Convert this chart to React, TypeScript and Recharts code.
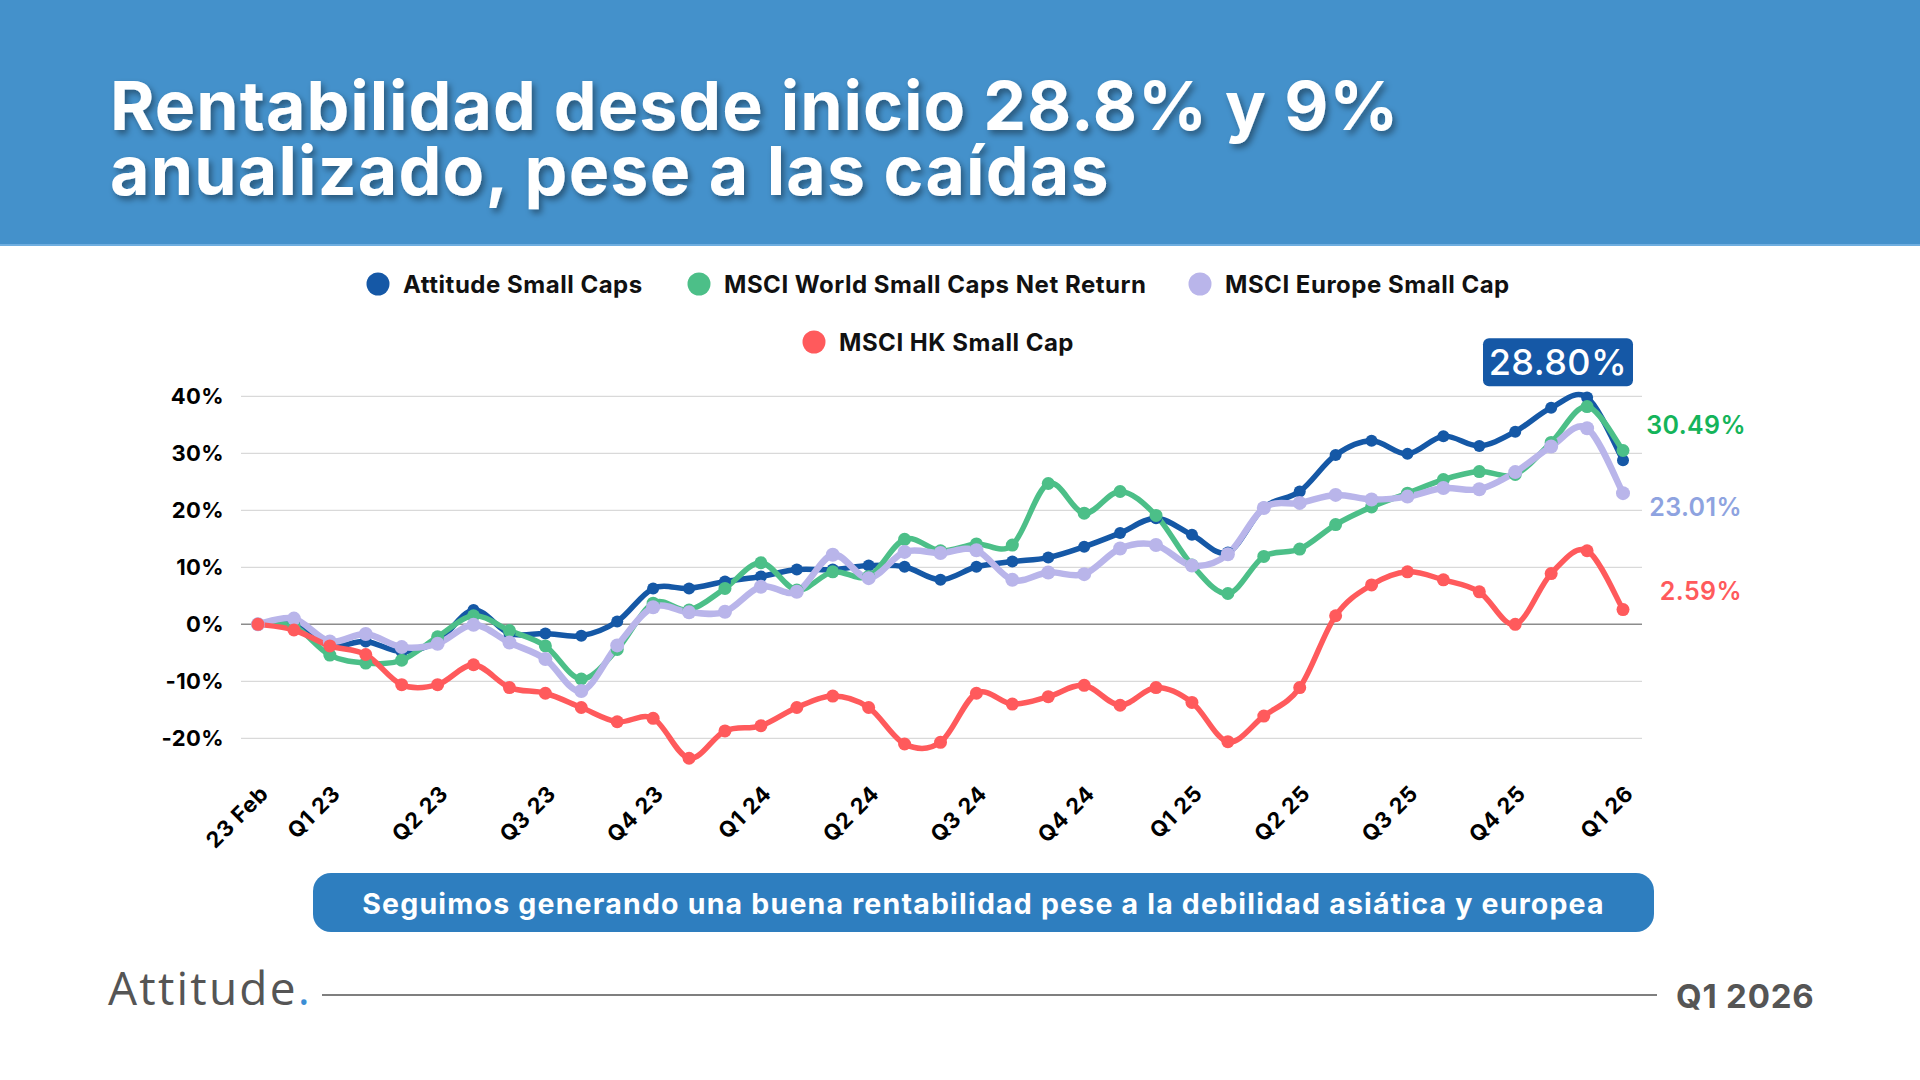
import React from "react";
import { LineChart, Line, XAxis, YAxis, CartesianGrid, ReferenceLine, LabelList } from "recharts";

const CATEGORIES = [
  "23 Feb", "Feb 23", "Q1 23", "Abr 23", "May 23", "Q2 23", "Jul 23", "Ago 23", "Q3 23",
  "Oct 23", "Nov 23", "Q4 23", "Ene 24", "Feb 24", "Q1 24", "Abr 24", "May 24", "Q2 24",
  "Jul 24", "Ago 24", "Q3 24", "Oct 24", "Nov 24", "Q4 24", "Ene 25", "Feb 25", "Q1 25",
  "Abr 25", "May 25", "Q2 25", "Jul 25", "Ago 25", "Q3 25", "Oct 25", "Nov 25", "Q4 25",
  "Ene 26", "Feb 26", "Q1 26",
];

const TICK_LABELS = [
  "23 Feb", "Q1 23", "Q2 23", "Q3 23", "Q4 23", "Q1 24", "Q2 24", "Q3 24", "Q4 24",
  "Q1 25", "Q2 25", "Q3 25", "Q4 25", "Q1 26",
];

const Y_TICKS = [-20, -10, 0, 10, 20, 30, 40];

const ATTITUDE = [
  0, 0.2, -3.8, -3.0, -4.8, -3.0, 2.5, -1.6, -1.6, -2.0, 0.5, 6.3, 6.3, 7.5, 8.4, 9.6, 9.6,
  10.3, 10.1, 7.8, 10.1, 11.0, 11.7, 13.6, 16.0, 18.6, 15.7, 12.6, 20.5, 23.3, 29.7, 32.2,
  29.9, 33.0, 31.3, 33.8, 38.0, 39.8, 28.8,
];
const MSCI_WORLD = [
  0, -0.3, -5.4, -6.8, -6.3, -2.2, 1.5, -1.1, -3.8, -9.6, -4.4, 3.7, 2.5, 6.3, 10.8, 6.0, 9.2,
  8.4, 14.9, 12.9, 14.1, 13.9, 24.7, 19.5, 23.3, 19.1, 10.4, 5.4, 11.9, 13.2, 17.5, 20.6,
  23.0, 25.4, 26.8, 26.3, 31.9, 38.2, 30.49,
];
const MSCI_EUROPE = [
  0, 1.0, -3.0, -1.7, -4.0, -3.4, -0.1, -3.2, -6.1, -11.7, -3.7, 3.0, 2.1, 2.2, 6.6, 5.7, 12.2,
  8.1, 12.7, 12.5, 13.0, 7.8, 9.1, 8.8, 13.3, 13.9, 10.3, 12.3, 20.4, 21.3, 22.7, 21.9, 22.4,
  23.9, 23.7, 26.7, 31.2, 34.4, 23.01,
];
const MSCI_HK = [
  0, -1.0, -3.8, -5.3, -10.6, -10.6, -7.1, -11.1, -12.1, -14.6, -17.1, -16.5, -23.5, -18.7,
  -17.8, -14.6, -12.6, -14.6, -21.0, -20.7, -12.1, -14.0, -12.7, -10.7, -14.2, -11.1, -13.7,
  -20.6, -16.1, -11.1, 1.5, 6.9, 9.2, 7.8, 5.7, 0.0, 8.9, 12.9, 2.59,
];

const END_LABELS = ["28.80%", "30.49%", "23.01%", "2.59%"];

const C_BLUE = "#1558A6";
const C_GREEN = "#4CBF88";
const C_LAV = "#B9B5EA";
const C_RED = "#FF5A5C";

const FONT = "Inter, 'Open Sans', sans-serif";
const LAST = CATEGORIES.length - 1;
const TICK_SET = new Set(TICK_LABELS);

const data = CATEGORIES.map((name, i) => ({
  name,
  attitude: ATTITUDE[i],
  world: MSCI_WORLD[i],
  europe: MSCI_EUROPE[i],
  hk: MSCI_HK[i],
}));

// Excel-like smoothing (Catmull-Rom as cubic Bezier)
const excelSmooth = (context: any) => {
  let pts: number[][] = [];
  return {
    areaStart() {},
    areaEnd() {},
    lineStart() {
      pts = [];
    },
    point(x: number, y: number) {
      pts.push([+x, +y]);
    },
    lineEnd() {
      const n = pts.length;
      if (!n) return;
      context.moveTo(pts[0][0], pts[0][1]);
      for (let i = 0; i < n - 1; i++) {
        const p0 = pts[Math.max(i - 1, 0)];
        const p1 = pts[i];
        const p2 = pts[i + 1];
        const p3 = pts[Math.min(i + 2, n - 1)];
        context.bezierCurveTo(
          p1[0] + (p2[0] - p0[0]) / 6,
          p1[1] + (p2[1] - p0[1]) / 6,
          p2[0] - (p3[0] - p1[0]) / 6,
          p2[1] - (p3[1] - p1[1]) / 6,
          p2[0],
          p2[1]
        );
      }
    },
  };
};

const XTick = (props: any) => {
  const { x, y, payload } = props;
  if (!TICK_SET.has(payload.value)) return null;
  const ax = x + 12;
  const ay = y + 28;
  return (
    <text
      x={ax}
      y={ay}
      transform={`rotate(-45 ${ax} ${ay})`}
      textAnchor="end"
      fontFamily={FONT}
      fontWeight={700}
      fontSize={22}
      letterSpacing={0.8}
      fill="#000"
    >
      {payload.value}
    </text>
  );
};

const YTick = (props: any) => {
  const { x, y, payload } = props;
  return (
    <text
      x={x}
      y={y}
      textAnchor="end"
      dominantBaseline="central"
      fontFamily={FONT}
      fontWeight={700}
      fontSize={22}
      letterSpacing={0.4}
      fill="#000"
    >
      {`${payload.value}%`}
    </text>
  );
};

const blueEnd = (props: any) => {
  const { x, y, index } = props;
  if (index !== LAST) return null;
  return (
    <g>
      <rect x={x - 140} y={y - 122} width={150} height={48} rx={6} fill={C_BLUE} />
      <text
        x={x - 65}
        y={y - 98}
        textAnchor="middle"
        dominantBaseline="central"
        fontFamily={FONT}
        fontWeight={500}
        fontSize={36}
        letterSpacing={0.5}
        fill="#fff"
      >
        {END_LABELS[0]}
      </text>
    </g>
  );
};

const sideEnd = (text: string, color: string, dx: number, dy: number) => (props: any) => {
  const { x, y, index } = props;
  if (index !== LAST) return null;
  return (
    <text
      x={x + dx}
      y={y + dy}
      textAnchor="end"
      dominantBaseline="central"
      fontFamily={FONT}
      fontWeight={600}
      fontSize={25}
      letterSpacing={0.4}
      fill={color}
    >
      {text}
    </text>
  );
};

const LEGEND = [
  { label: "Attitude Small Caps", color: C_BLUE, cx: 378, cy: 284 },
  { label: "MSCI World Small Caps Net Return", color: C_GREEN, cx: 699, cy: 284 },
  { label: "MSCI Europe Small Cap", color: C_LAV, cx: 1200, cy: 284 },
  { label: "MSCI HK Small Cap", color: C_RED, cx: 814, cy: 342 },
];

export default function App() {
  return (
    <div
      style={{
        position: "absolute",
        left: 0,
        top: 0,
        width: 1920,
        height: 1080,
        background: "#fff",
        overflow: "hidden",
      }}
    >
      <svg width={1920} height={1080} style={{ position: "absolute", left: 0, top: 0 }}>
        <defs>
          <filter id="tshadow" x="-10%" y="-30%" width="120%" height="160%">
            <feDropShadow dx="3" dy="4" stdDeviation="3" floodColor="#000" floodOpacity="0.4" />
          </filter>
        </defs>
        <rect x={0} y={0} width={1920} height={245} fill="#4491CB" />
        <rect x={0} y={244} width={1920} height={2} fill="#6FAEE0" />
        <text
          filter="url(#tshadow)"
          fontFamily={FONT}
          fontWeight={700}
          fontSize={68}
          fill="#fff"
        >
          <tspan x={110} y={130} letterSpacing={1.0}>
            Rentabilidad desde inicio 28.8% y 9%
          </tspan>
          <tspan x={110} y={195} letterSpacing={1.2}>
            anualizado, pese a las caídas
          </tspan>
        </text>

        {LEGEND.map((l) => (
          <g key={l.label}>
            <circle cx={l.cx} cy={l.cy} r={11.5} fill={l.color} />
            <text
              x={l.cx + 25}
              y={l.cy + 8.7}
              fontFamily={FONT}
              fontWeight={700}
              fontSize={24}
              letterSpacing={0.52}
              fill="#111"
            >
              {l.label}
            </text>
          </g>
        ))}

        <rect x={313} y={873} width={1341} height={59} rx={18} fill="#2E7EBF" />
        <text
          x={983.5}
          y={914}
          textAnchor="middle"
          fontFamily={FONT}
          fontWeight={700}
          fontSize={28.5}
          letterSpacing={1.2}
          fill="#fff"
        >
          Seguimos generando una buena rentabilidad pese a la debilidad asiática y europea
        </text>

        <text
          x={108}
          y={1005}
          fontFamily="'Open Sans', sans-serif"
          fontWeight={500}
          fontSize={46}
          letterSpacing={2.2}
          fill="#555"
        >
          Attitude<tspan fill="#3B8ED5">.</tspan>
        </text>
        <line x1={322} y1={995} x2={1657} y2={995} stroke="#555" strokeWidth={1.6} />
        <text
          x={1676}
          y={1008}
          fontFamily={FONT}
          fontWeight={700}
          fontSize={33}
          letterSpacing={0.8}
          fill="#555"
        >
          Q1 2026
        </text>
      </svg>

      <div style={{ position: "absolute", left: 0, top: 250, width: 1920, height: 620 }}>
        <LineChart
          width={1920}
          height={620}
          data={data}
          margin={{ top: 146.3, right: 278, bottom: 73.2, left: 181 }}
        >
          <CartesianGrid
            horizontal
            vertical={false}
            horizontalValues={Y_TICKS.filter((t) => t !== 0)}
            stroke="#D9D9D9"
            strokeWidth={1.3}
          />
          <XAxis
            dataKey="name"
            type="category"
            interval={0}
            height={30}
            padding={{ left: 17, right: 19 }}
            axisLine={false}
            tickLine={false}
            tickSize={0}
            tickMargin={0}
            tick={<XTick />}
          />
          <YAxis
            type="number"
            domain={[-25, 40]}
            ticks={Y_TICKS}
            width={60}
            axisLine={false}
            tickLine={false}
            tickSize={0}
            tickMargin={17}
            tick={<YTick />}
          />
          <ReferenceLine y={0} stroke="#8C8C8C" strokeWidth={1.6} />
          <Line
            dataKey="attitude"
            type={excelSmooth as any}
            stroke={C_BLUE}
            strokeWidth={5.5}
            dot={{ r: 6, fill: C_BLUE, stroke: C_BLUE, strokeWidth: 0 }}
            activeDot={false}
            isAnimationActive={false}
          >
            <LabelList dataKey="attitude" content={blueEnd} />
          </Line>
          <Line
            dataKey="world"
            type={excelSmooth as any}
            stroke={C_GREEN}
            strokeWidth={5.5}
            dot={{ r: 6.5, fill: C_GREEN, stroke: C_GREEN, strokeWidth: 0 }}
            activeDot={false}
            isAnimationActive={false}
          >
            <LabelList dataKey="world" content={sideEnd(END_LABELS[1], "#14B45A", 123, -25.5)} />
          </Line>
          <Line
            dataKey="europe"
            type={excelSmooth as any}
            stroke={C_LAV}
            strokeWidth={6.5}
            dot={{ r: 7, fill: C_LAV, stroke: C_LAV, strokeWidth: 0 }}
            activeDot={false}
            isAnimationActive={false}
          >
            <LabelList dataKey="europe" content={sideEnd(END_LABELS[2], "#8EA3E0", 119, 14)} />
          </Line>
          <Line
            dataKey="hk"
            type={excelSmooth as any}
            stroke={C_RED}
            strokeWidth={5.5}
            dot={{ r: 6.5, fill: C_RED, stroke: C_RED, strokeWidth: 0 }}
            activeDot={false}
            isAnimationActive={false}
          >
            <LabelList dataKey="hk" content={sideEnd(END_LABELS[3], "#FF5A5C", 119, -18.5)} />
          </Line>
        </LineChart>
      </div>
    </div>
  );
}
